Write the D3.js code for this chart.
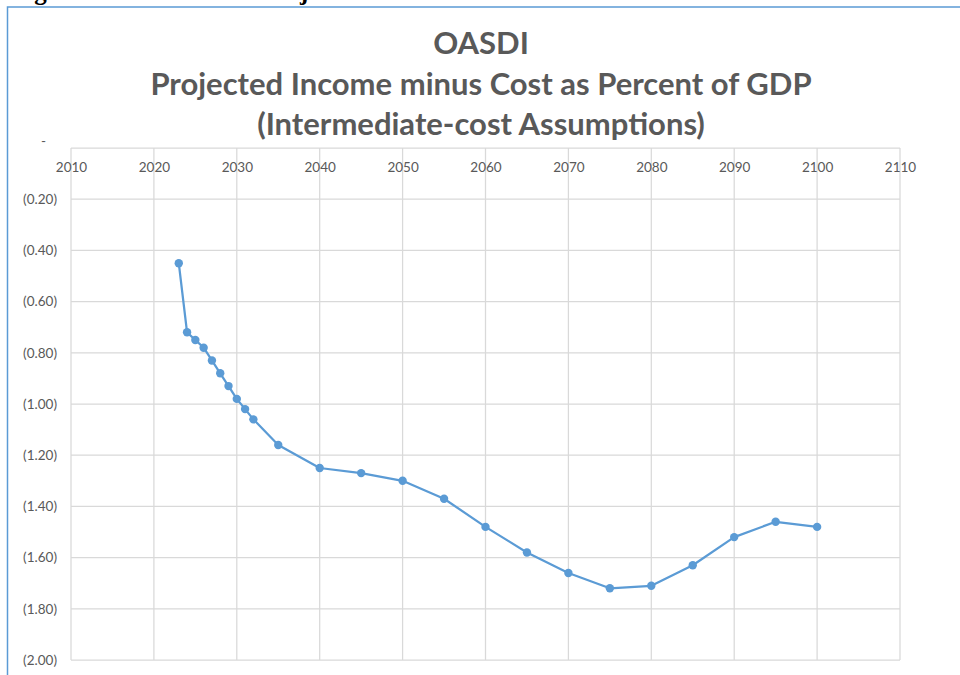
<!DOCTYPE html>
<html>
<head>
<meta charset="utf-8">
<script src="https://cdn.jsdelivr.net/npm/d3@7"></script>
<style>
  body { margin: 0; background: #fff; }
  svg { display: block; }
</style>
</head>
<body>
<div id="chart"></div>
<script>
// chart data
const years = [2023, 2024, 2025, 2026, 2027, 2028, 2029, 2030, 2031, 2032, 2035, 2040, 2045, 2050,
  2055, 2060, 2065, 2070, 2075, 2080, 2085, 2090, 2095, 2100];
const balance = [-0.45, -0.72, -0.75, -0.78, -0.83, -0.88, -0.93, -0.98, -1.02, -1.06, -1.16, -1.25, -1.27, -1.30,
  -1.37, -1.48, -1.58, -1.66, -1.72, -1.71, -1.63, -1.52, -1.46, -1.48];
const xTicks = [2010, 2020, 2030, 2040, 2050, 2060, 2070, 2080, 2090, 2100, 2110];
const yTicks = [0, -0.2, -0.4, -0.6, -0.8, -1.0, -1.2, -1.4, -1.6, -1.8, -2.0];
const titleLines = ["OASDI", "Projected Income minus Cost as Percent of GDP", "(Intermediate-cost Assumptions)"];

const width = 960;
const height = 675;
const margin = { top: 148, right: 60, bottom: 15, left: 71 };

const points = years.map((y, i) => ({ year: y, value: balance[i] }));

const svg = d3.select("#chart")
  .append("svg")
  .attr("width", width)
  .attr("height", height);

// caption above the chart frame, mostly scrolled off the top like in the source page
svg.append("text")
  .attr("x", 12)
  .attr("y", 0)
  .attr("font-family", "Liberation Serif")
  .attr("font-weight", "bold")
  .attr("font-size", 25)
  .attr("fill", "#000")
  .text("Figure II.D7.—OASDI Projected Income minus Cost");

// chart frame
svg.append("rect")
  .attr("x", 7.5)
  .attr("y", 7)
  .attr("width", width + 20)
  .attr("height", height + 20)
  .attr("fill", "#fff")
  .attr("stroke", "#5b9bd5")
  .attr("stroke-width", 1.5);

const x = d3.scaleLinear()
  .domain([2010, 2110])
  .range([margin.left, 900]);

const y = d3.scaleLinear()
  .domain([-2, 0])
  .range([660, margin.top]);

// title
svg.append("g")
  .selectAll("text")
  .data(titleLines)
  .enter()
  .append("text")
  .attr("x", 481)
  .attr("y", (d, i) => 54 + i * 40.5)
  .attr("text-anchor", "middle")
  .attr("font-family", "Lato")
  .attr("font-weight", "bold")
  .attr("font-size", 31)
  .attr("fill", "#595959")
  .text(d => d);

// gridlines
svg.append("g")
  .selectAll("line")
  .data(xTicks)
  .enter()
  .append("line")
  .attr("x1", d => x(d)).attr("x2", d => x(d))
  .attr("y1", y(0)).attr("y2", y(-2))
  .attr("stroke", "#d9d9d9")
  .attr("stroke-width", 1.25);

svg.append("g")
  .selectAll("line")
  .data(yTicks)
  .enter()
  .append("line")
  .attr("x1", x(2010)).attr("x2", x(2110))
  .attr("y1", d => y(d)).attr("y2", d => y(d))
  .attr("stroke", "#d9d9d9")
  .attr("stroke-width", 1.25);

// x axis sits on the zero line, labels just below it
const xAxis = svg.append("g")
  .attr("transform", `translate(0, ${y(0)})`)
  .call(d3.axisBottom(x).tickValues(xTicks).tickFormat(d3.format("d")).tickSize(0).tickPadding(14));
xAxis.select(".domain").remove();
xAxis.selectAll("text")
  .attr("font-family", "Lato")
  .attr("font-size", 13.5)
  .attr("fill", "#595959");

const fmtY = v => v === 0 ? "-" : "(" + Math.abs(v).toFixed(2) + ")";
const yAxis = svg.append("g")
  .attr("transform", `translate(${x(2010)}, 0)`)
  .call(d3.axisLeft(y).tickValues(yTicks).tickFormat(fmtY).tickSize(0).tickPadding(14));
yAxis.select(".domain").remove();
yAxis.selectAll("text")
  .attr("font-family", "Lato")
  .attr("font-size", 13.5)
  .attr("fill", "#595959");
yAxis.selectAll(".tick").filter(d => d === 0).select("text")
  .attr("x", -25)
  .attr("dy", "-0.2em");

// series
const line = d3.line()
  .x(d => x(d.year))
  .y(d => y(d.value));

svg.append("path")
  .datum(points)
  .attr("d", line)
  .attr("fill", "none")
  .attr("stroke", "#5b9bd5")
  .attr("stroke-width", 2.25)
  .attr("stroke-linejoin", "round");

svg.append("g")
  .selectAll("circle")
  .data(points)
  .enter()
  .append("circle")
  .attr("cx", d => x(d.year))
  .attr("cy", d => y(d.value))
  .attr("r", 4.2)
  .attr("fill", "#5b9bd5");
</script>
</body>
</html>
